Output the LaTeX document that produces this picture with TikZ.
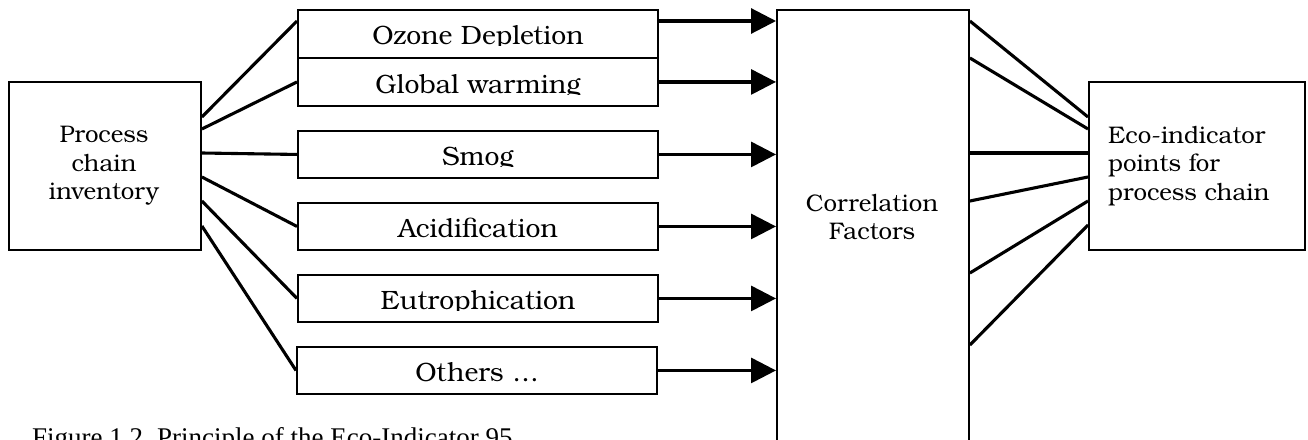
\documentclass[tikz,border=0pt]{standalone}
\usepackage{fontspec}
\setmainfont{texgyrebonum-regular.otf}
\newfontfamily\capfont{Liberation Serif}
\usetikzlibrary{arrows.meta,calc}

\begin{document}
\begin{tikzpicture}[x=1pt,y=-1pt,
  box/.style={draw, line width=1.9pt, inner sep=0pt, anchor=north west},
  link/.style={line width=3.1pt},
  feed/.style={line width=3.1pt, -{Triangle[length=25pt,width=25pt]}},
  lbl/.style={font=\fontsize{26.5}{28.3}\selectfont, inner sep=0pt},
  sidelbl/.style={font=\fontsize{24}{28.3}\selectfont, inner sep=0pt}]
\useasboundingbox (0,0) rectangle (1308,439);
\clip (0,0) rectangle (1308,439);

% boxes
\node[box, minimum width=192pt, minimum height=168pt] (pci) at (8,81) {};
\node[box, minimum width=360pt, minimum height=48pt] (oz) at (297,9) {};
\node[box, minimum width=360pt, minimum height=48pt] (gw) at (297,57) {};
\node[box, minimum width=360pt, minimum height=47pt] (sm) at (297,130) {};
\node[box, minimum width=360pt, minimum height=47pt] (ac) at (297,202) {};
\node[box, minimum width=360pt, minimum height=47pt] (eu) at (297,274) {};
\node[box, minimum width=360pt, minimum height=47pt] (ot) at (296,346) {};
\node[box, minimum width=192pt, minimum height=470pt] (cf) at (776,9) {};
\node[box, minimum width=216pt, minimum height=168pt] (eco) at (1088,81) {};

% box texts (anchor=base sits on the last line)
\node[sidelbl, align=center, anchor=base] (pcit) at (104,199.5) {Process\\chain\\inventory};
\node[sidelbl, align=center, anchor=base] (cft) at (872,239.5) {Correlation\\Factors};
\node[sidelbl, align=left, anchor=base west] (ecot) at (1108,200) {Eco-indicator\\points for\\process chain};

% category labels, cut off along the lower inner margin of each box
\begin{scope}\clip (297,9) rectangle (657,45.5);
  \node[lbl, anchor=base] (ozt) at (478,44.5) {Ozone Depletion};\end{scope}
\begin{scope}\clip (297,57) rectangle (657,94.3);
  \node[lbl, anchor=base] (gwt) at (478,93.3) {Global warming};\end{scope}
\begin{scope}\clip (297,130) rectangle (657,166);
  \node[lbl, anchor=base] (smt) at (478,165) {Smog};\end{scope}
\begin{scope}\clip (297,202) rectangle (657,238);
  \node[lbl, anchor=base] (act) at (478,237) {Acidification};\end{scope}
\begin{scope}\clip (297,274) rectangle (657,310);
  \node[lbl, anchor=base] (eut) at (478,309) {Eutrophication};\end{scope}
\begin{scope}\clip (296,346) rectangle (656,382);
  \node[lbl, anchor=base] (ott) at (477,381) {Others \dots};\end{scope}

% inventory to impact categories
\draw[link] ($(pci.north east)+(0,36)$) -- ($(oz.north west)+(0,12)$);
\draw[link] ($(pci.north east)+(0,48)$) -- (gw.west);
\draw[link] ($(pci.north east)+(0,72)$) -- (sm.west);
\draw[link] ($(pci.north east)+(0,96)$) -- (ac.west);
\draw[link] ($(pci.north east)+(0,120)$) -- (eu.west);
\draw[link] ($(pci.north east)+(0,145)$) -- (ot.west);

% impact categories to correlation factors
\draw[feed] ($(oz.north east)+(0,12)$) -- ($(cf.north west)+(0,12)$);
\draw[feed] (gw.east) -- (gw.east -| cf.west);
\draw[feed] (sm.east) -- (sm.east -| cf.west);
\draw[feed] (ac.east) -- (ac.east -| cf.west);
\draw[feed] (eu.east) -- (eu.east -| cf.west);
\draw[feed] (ot.east) -- (ot.east -| cf.west);

% correlation factors to eco-indicator points
\draw[link] ($(cf.north east)+(0,12)$) -- ($(eco.north west)+(0,36)$);
\draw[link] ($(cf.north east)+(0,49)$) -- ($(eco.north west)+(0,48)$);
\draw[link] ($(cf.north east)+(0,144)$) -- ($(eco.north west)+(0,72)$);
\draw[link] ($(cf.north east)+(0,192)$) -- ($(eco.north west)+(0,96)$);
\draw[link] ($(cf.north east)+(0,264)$) -- ($(eco.north west)+(0,120)$);
\draw[link] ($(cf.north east)+(0,336)$) -- ($(eco.north west)+(0,144)$);

% caption
\node[font=\capfont\fontsize{27}{32}\selectfont, inner sep=0pt, anchor=base west] (cap) at (32,446) {Figure 1.2\hspace{14pt}Principle of the Eco-Indicator 95};
\end{tikzpicture}
\end{document}
